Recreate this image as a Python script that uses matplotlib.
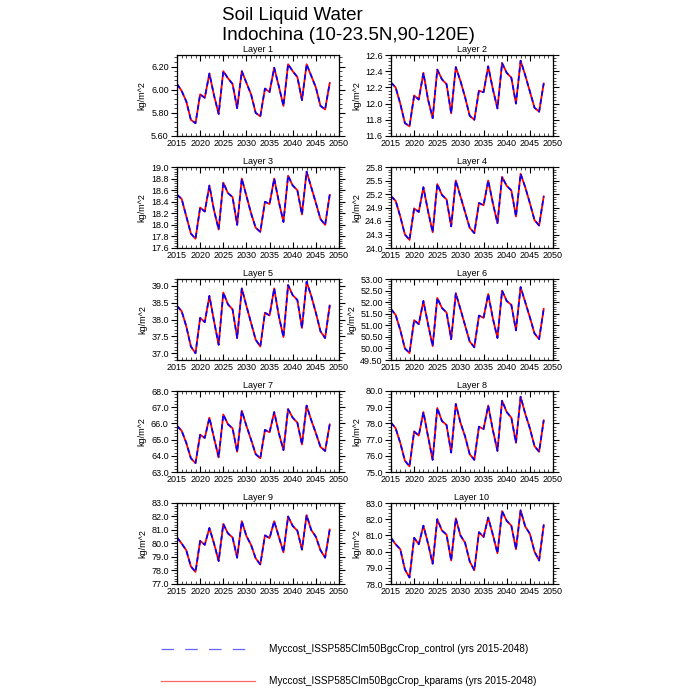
import matplotlib
matplotlib.use("Agg")
import matplotlib.pyplot as plt
from matplotlib.ticker import MultipleLocator, FormatStrFormatter, AutoMinorLocator
import numpy as np

plt.rcParams['font.family'] = ['Liberation Sans', 'DejaVu Sans']

years = list(range(2015, 2049))

layer1 = [6.05, 5.99, 5.90, 5.74, 5.71, 5.96, 5.93, 6.14, 5.95, 5.79, 6.16, 6.10, 6.05, 5.84, 6.16,
          6.06, 5.96, 5.80, 5.77, 6.01, 5.98, 6.19, 6.03, 5.86, 6.22, 6.16, 6.11, 5.91, 6.22, 6.12,
          6.02, 5.86, 5.83, 6.06]
layer2 = [12.26, 12.20, 12.00, 11.76, 11.72, 12.10, 12.05, 12.38, 12.05, 11.82, 12.42, 12.30, 12.24,
          11.88, 12.45, 12.28, 12.08, 11.85, 11.80, 12.16, 12.14, 12.46, 12.18, 11.94, 12.50, 12.38,
          12.32, 12.00, 12.53, 12.35, 12.15, 11.95, 11.90, 12.25]
layer3 = [18.52, 18.45, 18.15, 17.85, 17.76, 18.30, 18.23, 18.68, 18.25, 17.92, 18.73, 18.55, 18.48,
          18.00, 18.80, 18.50, 18.20, 17.95, 17.88, 18.40, 18.36, 18.80, 18.40, 18.05, 18.85, 18.68,
          18.60, 18.18, 18.92, 18.65, 18.38, 18.10, 18.00, 18.52]
layer4 = [25.15, 25.05, 24.70, 24.30, 24.18, 24.88, 24.80, 25.35, 24.82, 24.35, 25.42, 25.18, 25.08,
          24.48, 25.50, 25.15, 24.80, 24.45, 24.33, 25.00, 24.95, 25.50, 25.00, 24.55, 25.58, 25.38,
          25.28, 24.70, 25.65, 25.35, 25.00, 24.62, 24.50, 25.15]
layer5 = [38.40, 38.25, 37.80, 37.20, 37.00, 38.05, 37.92, 38.70, 37.95, 37.25, 38.80, 38.45, 38.30,
          37.45, 38.92, 38.40, 37.90, 37.40, 37.20, 38.20, 38.12, 38.92, 38.10, 37.48, 39.02, 38.72,
          38.58, 37.75, 39.12, 38.70, 38.20, 37.65, 37.45, 38.42]
layer6 = [51.70, 51.45, 50.80, 50.00, 49.80, 51.22, 51.05, 52.05, 51.05, 50.10, 52.18, 51.75, 51.55,
          50.40, 52.38, 51.70, 51.00, 50.30, 50.05, 51.42, 51.32, 52.35, 51.30, 50.45, 52.50, 52.05,
          51.88, 50.78, 52.65, 52.00, 51.35, 50.65, 50.40, 51.72]
layer7 = [65.85, 65.55, 64.80, 63.85, 63.55, 65.30, 65.10, 66.35, 65.10, 63.90, 66.55, 65.95, 65.70,
          64.25, 66.78, 65.85, 65.00, 64.10, 63.85, 65.60, 65.45, 66.70, 65.40, 64.35, 66.88, 66.35,
          66.05, 64.70, 67.10, 66.20, 65.40, 64.55, 64.30, 65.95]
layer8 = [78.05, 77.70, 76.80, 75.70, 75.35, 77.50, 77.25, 78.70, 77.20, 75.75, 78.95, 78.15, 77.90,
          76.20, 79.20, 78.05, 77.20, 76.10, 75.75, 77.80, 77.65, 79.10, 77.60, 76.30, 79.40, 78.70,
          78.35, 76.80, 79.65, 78.60, 77.70, 76.60, 76.25, 78.20]
layer9 = [80.45, 80.00, 79.50, 78.30, 77.90, 80.20, 79.90, 81.15, 80.00, 78.70, 81.45, 80.75, 80.45,
          78.95, 81.65, 80.55, 79.90, 78.90, 78.45, 80.60, 80.40, 81.65, 80.50, 79.35, 82.00, 81.30,
          80.95, 79.55, 82.10, 81.00, 80.50, 79.50, 78.95, 81.05]
layer10 = [80.85, 80.45, 80.15, 78.90, 78.40, 80.85, 80.45, 81.60, 80.50, 79.25, 82.00, 81.30, 81.05,
           79.45, 82.05, 81.00, 80.55, 79.40, 78.85, 81.20, 80.90, 82.10, 81.05, 79.90, 82.50, 81.90,
           81.60, 80.15, 82.55, 81.55, 81.10, 80.00, 79.45, 81.65]

kparams = [layer1, layer2, layer3, layer4, layer5, layer6, layer7, layer8, layer9, layer10]
control = [list(v) for v in kparams]

layer_titles = ["Layer %d" % i for i in range(1, 11)]
ylims = [(5.6, 6.3), (11.6, 12.6), (17.6, 19.0), (24.0, 25.8), (36.8, 39.2),
         (49.5, 53.0), (63.0, 68.0), (75.0, 80.0), (77.0, 83.0), (78.0, 83.0)]
ysteps = [0.2, 0.2, 0.2, 0.3, 0.5, 0.5, 1.0, 1.0, 1.0, 1.0]
yfmts = ["%.2f", "%.1f", "%.1f", "%.1f", "%.1f", "%.2f", "%.1f", "%.1f", "%.1f", "%.1f"]
ylabel = "kg/m^2"
legend_labels = ["Myccost_ISSP585Clm50BgcCrop_control (yrs 2015-2048)",
                 "Myccost_ISSP585Clm50BgcCrop_kparams (yrs 2015-2048)"]

W = H = 700
fig = plt.figure(figsize=(7, 7), dpi=100)

lefts = [177, 391]
tops = [55, 167, 279, 391, 503]
pw, ph = 162, 81

for i in range(10):
    r, c = divmod(i, 2)
    l = lefts[c]
    t = tops[r]
    ax = fig.add_axes([l / W, 1 - (t + ph) / H, pw / W, ph / H])
    ax.plot(years, kparams[i], color='red', lw=1.3, solid_capstyle='round')
    ax.plot(years, control[i], color='blue', lw=1.2, dashes=(3, 2))
    ax.set_xlim(2015, 2050)
    ax.set_ylim(*ylims[i])
    ax.xaxis.set_major_locator(MultipleLocator(5))
    ax.xaxis.set_minor_locator(MultipleLocator(1))
    lo = ylims[i][0]
    step = ysteps[i]
    first = np.ceil(lo / step - 1e-9) * step
    ax.set_yticks(np.arange(first, ylims[i][1] + 1e-9, step))
    ax.yaxis.set_major_formatter(FormatStrFormatter(yfmts[i]))
    ax.yaxis.set_minor_locator(AutoMinorLocator(5))
    ax.tick_params(axis='both', which='both', top=True, right=True, labelsize=6.5, pad=2)
    ax.tick_params(axis='x', which='major', direction='in', length=4, width=0.8)
    ax.tick_params(axis='x', which='minor', direction='in', length=2, width=0.5)
    ax.tick_params(axis='y', which='major', direction='out', length=4, width=0.8)
    ax.tick_params(axis='y', which='minor', direction='out', length=2, width=0.5)
    for s in ax.spines.values():
        s.set_linewidth(0.9)
    ax.set_ylabel(ylabel, fontsize=6.5, labelpad=3)
    ax.set_title(layer_titles[i], fontsize=6.5, pad=2)

fig.text(222 / W, 1 - 16 / H, "Soil Liquid Water", fontsize=13.5, ha='left', va='center')
fig.text(222 / W, 1 - 36 / H, "Indochina (10-23.5N,90-120E)", fontsize=13.5, ha='left', va='center')

lax = fig.add_axes([0, 0, 1, 1], facecolor='none')
lax.set_xlim(0, W)
lax.set_ylim(H, 0)
lax.axis('off')
lax.plot([161, 255], [649, 649], color='#6666ff', lw=0.9, dashes=(10, 9))
lax.plot([161, 255], [681, 681], color='#ff6666', lw=0.9)
lax.text(269, 649, legend_labels[0], fontsize=7.2, va='center', ha='left')
lax.text(269, 681, legend_labels[1], fontsize=7.2, va='center', ha='left')

fig.savefig("out.png", dpi=100)
